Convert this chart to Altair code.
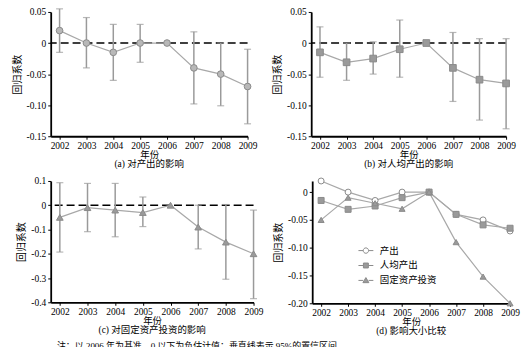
import altair as alt
import pandas as pd

years = [2002, 2003, 2004, 2005, 2006, 2007, 2008, 2009]

# (a) 产出
a_est = [0.02, 0.0, -0.015, 0.0, 0.0, -0.04, -0.05, -0.07]
a_lo = [-0.015, -0.04, -0.06, -0.031, None, -0.098, -0.101, -0.13]
a_hi = [0.055, 0.041, 0.03, 0.03, None, 0.018, 0.0, -0.01]
# (b) 人均产出
b_est = [-0.015, -0.031, -0.025, -0.01, 0.0, -0.04, -0.059, -0.065]
b_lo = [-0.055, -0.06, -0.05, -0.055, None, -0.094, -0.124, -0.138]
b_hi = [0.026, 0.0, 0.002, 0.037, None, 0.017, 0.007, 0.007]
# (c) 固定资产投资
c_est = [-0.05, -0.01, -0.02, -0.03, 0.0, -0.09, -0.152, -0.2]
c_lo = [-0.193, -0.109, -0.13, -0.088, None, -0.18, -0.305, -0.385]
c_hi = [0.093, 0.09, 0.09, 0.034, None, 0.0, 0.003, -0.02]

series_names = ["产出", "人均产出", "固定资产投资"]
captions = ["(a) 对产出的影响", "(b) 对人均产出的影响", "(c) 对固定资产投资的影响", "(d) 影响大小比较"]
note = "注：以 2006 年为基准，0 以下为负估计值；垂直线表示 95%的置信区间"

CJK = "Liberation Serif, Noto Sans CJK SC"
GRAY = "#9a9a9a"
XDOM = [2001.67, 2009]


def frame(est, lo, hi):
    return pd.DataFrame({"year": years, "est": est, "lo": lo, "hi": hi})


def yaxis(vals, fmt):
    return alt.Axis(
        values=vals,
        labelExpr="datum.value == 0 ? '0' : replace(format(datum.value, '%s'), '\u2212', '-')" % fmt,
        title="回归系数",
        labelOverlap=False,
    )


def xenc():
    return alt.X(
        "year:Q",
        scale=alt.Scale(domain=XDOM, nice=False, zero=False),
        axis=alt.Axis(values=years, format="d", title="年份", labelFlush=False,
                      labelOverlap=False),
    )


def cap_title(text):
    return alt.TitleParams(text, orient="bottom", font=CJK, fontSize=9.5,
                           fontWeight="normal", offset=0, color="black")


def panel(df, shape, fill, ydom, yvals, fmt, w, h, caption):
    ysc = alt.Scale(domain=ydom, nice=False, zero=False)
    ax = yaxis(yvals, fmt)
    base = alt.Chart(df)
    zero = alt.Chart(pd.DataFrame({"est": [0.0]})).mark_rule(
        color="black", strokeDash=[8, 4], strokeWidth=1.5
    ).encode(y=alt.Y("est:Q", scale=ysc, axis=ax))
    bars = base.transform_filter("isValid(datum.lo)")
    rule = bars.mark_rule(color=GRAY, strokeWidth=1.5).encode(
        x=xenc(), y=alt.Y("lo:Q", scale=ysc, axis=ax), y2="hi:Q"
    )
    cap_lo = bars.mark_tick(orient="horizontal", size=7, thickness=1.2, color=GRAY).encode(
        x=xenc(), y=alt.Y("lo:Q", scale=ysc, axis=ax)
    )
    cap_hi = bars.mark_tick(orient="horizontal", size=7, thickness=1.2, color=GRAY).encode(
        x=xenc(), y=alt.Y("hi:Q", scale=ysc, axis=ax)
    )
    line = base.mark_line(color="#a8a8a8", strokeWidth=1.2).encode(
        x=xenc(), y=alt.Y("est:Q", scale=ysc, axis=ax)
    )
    pts = base.mark_point(shape=shape, filled=True, fill=fill, stroke="#8a8a8a",
                          strokeWidth=1, size=45, opacity=1).encode(
        x=xenc(), y=alt.Y("est:Q", scale=ysc, axis=ax)
    )
    return alt.layer(zero, rule, cap_lo, cap_hi, line, pts).properties(
        width=w, height=h, title=cap_title(caption)
    )


pa = panel(frame(a_est, a_lo, a_hi), "circle", "#b8b8b8", [-0.15, 0.05],
           [0.05, 0, -0.05, -0.1, -0.15], ".2f", 198, 125, captions[0])
pb = panel(frame(b_est, b_lo, b_hi), "square", "#9a9a9a", [-0.15, 0.05],
           [0.05, 0, -0.05, -0.1, -0.15], ".2f", 196, 125, captions[1])
pc = panel(frame(c_est, c_lo, c_hi), "triangle-up", "#9a9a9a", [-0.4, 0.1],
           [0.1, 0, -0.1, -0.2, -0.3, -0.4], ".1f", 204, 122, captions[2])

# (d) comparison
rows = []
for name, est in zip(series_names, [a_est, b_est, c_est]):
    for yr, v in zip(years, est):
        rows.append({"year": yr, "est": v, "series": name})
dd = pd.DataFrame(rows)

ysc_d = alt.Scale(domain=[-0.2, 0.02], nice=False, zero=False)
yd = alt.Y("est:Q", scale=ysc_d, axis=yaxis([0, -0.05, -0.1, -0.15, -0.2], ".2f"))
bd = alt.Chart(dd)
d_lines = bd.mark_line(color="#a8a8a8", strokeWidth=1.2).encode(
    x=xenc(), y=yd, detail="series:N"
)
d_pts = bd.mark_point(filled=True, stroke="#8a8a8a", strokeWidth=1, size=36, opacity=1).encode(
    x=xenc(), y=yd,
    shape=alt.Shape("series:N", sort=series_names,
                    scale=alt.Scale(domain=series_names, range=["circle", "square", "triangle-up"]),
                    legend=None),
    fill=alt.Fill("series:N", sort=series_names,
                  scale=alt.Scale(domain=series_names, range=["white", "#9a9a9a", "#9a9a9a"]),
                  legend=None),
)
leg_paths = [
    "M-1,0L-0.36,0M0.36,0L1,0M-0.36,0A0.36,0.36,0,1,1,0.36,0A0.36,0.36,0,1,1,-0.36,0Z",
    "M-1,0L-0.33,0M0.33,0L1,0M-0.33,-0.33L0.33,-0.33L0.33,0.33L-0.33,0.33Z",
    "M-1,0L-0.36,0M0.36,0L1,0M0,-0.38L0.4,0.3L-0.4,0.3Z",
]
legend = alt.Legend(title=None, orient="none", legendX=46, legendY=62,
                    labelFont=CJK, labelFontSize=9.5, labelColor="black",
                    symbolSize=225, symbolStrokeWidth=1,
                    symbolOpacity=1, rowPadding=2, labelOffset=6)
d_leg = bd.mark_point(filled=False, strokeWidth=1, opacity=0, size=10).encode(
    x=xenc(), y=yd,
    shape=alt.Shape("lg:N", sort=series_names,
                    scale=alt.Scale(domain=series_names, range=leg_paths), legend=legend),
    fill=alt.Fill("lg:N", sort=series_names,
                  scale=alt.Scale(domain=series_names, range=["white", "#9a9a9a", "#9a9a9a"]),
                  legend=legend),
    stroke=alt.Stroke("lg:N", sort=series_names,
                      scale=alt.Scale(domain=series_names, range=["#8a8a8a", "#8a8a8a", "#8a8a8a"]),
                      legend=legend),
).transform_calculate(lg="datum.series")

pd_ = alt.layer(d_lines, d_pts, d_leg).resolve_scale(
    shape="independent", fill="independent", stroke="independent"
).properties(width=199, height=123, title=cap_title(captions[3]))

row1 = alt.hconcat(pa, pb, spacing=15)
row2 = alt.hconcat(pc, pd_, spacing=10)

chart = alt.vconcat(row1, row2, spacing=7).properties(
    padding={"left": 12, "top": 6, "right": 2, "bottom": 5},
    title=alt.TitleParams(note, orient="bottom", font=CJK, fontSize=9, fontWeight="normal",
                          color="black", offset=6, dx=45),
).configure_view(stroke=None).configure_axis(
    grid=False, domainColor="black", domainWidth=1.8, tickColor="black", tickSize=3,
    labelFont="Liberation Serif", labelFontSize=9.5, labelColor="black", labelPadding=1,
    titleFont=CJK, titleFontSize=9.5, titleFontWeight="normal", titleColor="black",
    titlePadding=0,
).configure_axisY(titleFontSize=10, titlePadding=4, labelPadding=2)

chart.save("out.html", embed_options={"renderer": "svg", "actions": False})
